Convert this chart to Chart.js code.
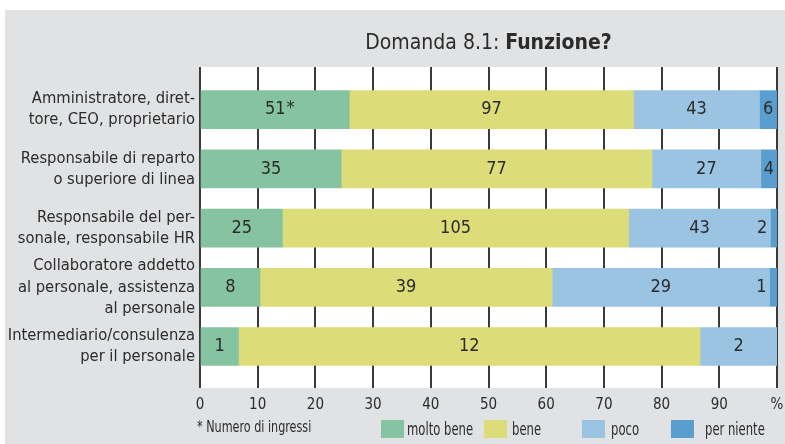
<!DOCTYPE html>
<html>
<head>
<meta charset="utf-8">
<script src="https://cdn.jsdelivr.net/npm/chart.js@4"></script>
<style>
  body { margin: 0; background: #fff; width: 785px; height: 444px; overflow: hidden; position: relative;
         font-family: 'DejaVu Sans Condensed', 'Roboto', sans-serif; color: #2b2b2b; }
  #panel { position: absolute; left: 5px; top: 10px; width: 780px; height: 434px; background: #e1e2e4; }
  #wrap { position: absolute; left: 0; top: 0; width: 785px; height: 444px; }
  #title { position: absolute; left: 200px; width: 577px; top: 30px; text-align: center; font-size: 21px; }
  #note { position: absolute; left: 197px; top: 418px; font-size: 15px; transform: scaleX(0.83); transform-origin: left; }
  .box { position: absolute; top: 420px; width: 23px; height: 18px; }
  .txt { position: absolute; top: 419px; font-size: 17px; transform: scaleX(0.76); transform-origin: left; white-space: nowrap; }
</style>
</head>
<body>
<div id="panel"></div>
<div id="wrap"><canvas id="chart" width="785" height="444"></canvas></div>
<div id="title">Domanda 8.1: <b>Funzione?</b></div>
<div id="note">* Numero di ingressi</div>
<div id="legend"></div>
<script>
// categories (one label line per array entry)
const categories = [
  ['Amministratore, diret-', 'tore, CEO, proprietario'],
  ['Responsabile di reparto', 'o superiore di linea'],
  ['Responsabile del per-', 'sonale, responsabile HR'],
  ['Collaboratore addetto', 'al personale, assistenza', 'al personale'],
  ['Intermediario/consulenza', 'per il personale']
];

// counts per answer, one value per category
const moltoBene = [51, 35, 25, 8, 1];
const bene = [97, 77, 105, 39, 12];
const poco = [43, 27, 43, 29, 2];
const perNiente = [6, 4, 2, 1, 0];

const seriesNames = ['molto bene', 'bene', 'poco', 'per niente'];
const seriesColors = ['#86c3a0', '#dcdc78', '#9ac4e2', '#5a9ecf'];
const xTicks = [0, 10, 20, 30, 40, 50, 60, 70, 80, 90, 100];

const allSeries = [moltoBene, bene, poco, perNiente];
const totals = categories.map((c, i) => allSeries.reduce((s, arr) => s + arr[i], 0));

const datasets = allSeries.map((arr, k) => ({
  label: seriesNames[k],
  data: arr.map((v, i) => ({ x: v / totals[i] * 100, y: i, count: v })),
  backgroundColor: seriesColors[k],
  borderWidth: 0,
  barThickness: 38
}));

const fontFamily = '"DejaVu Sans Condensed", sans-serif';

// value labels inside the segments
const valueLabels = {
  id: 'valueLabels',
  afterDatasetsDraw(chart) {
    const ctx = chart.ctx;
    ctx.save();
    ctx.font = '18px ' + fontFamily;
    ctx.fillStyle = '#2b2b2b';
    ctx.textBaseline = 'middle';
    chart.data.datasets.forEach((ds, k) => {
      chart.getDatasetMeta(k).data.forEach((bar, i) => {
        const count = ds.data[i].count;
        if (!count) return;
        const left = Math.min(bar.x, bar.base), right = Math.max(bar.x, bar.base);
        const text = String(count);
        if (right - left < 14) {
          ctx.textAlign = 'right';
          ctx.fillText(text, left - 3, bar.y);
        } else {
          const cx = (left + right) / 2;
          ctx.textAlign = 'center';
          ctx.fillText(text, cx, bar.y);
          if (i === 0 && k === 0) {
            // footnote marker
            ctx.textAlign = 'left';
            ctx.fillText('*', cx + ctx.measureText(text).width / 2 + 1, bar.y - 1);
          }
        }
      });
    });
    ctx.restore();
  }
};

new Chart(document.getElementById('chart'), {
  type: 'bar',
  data: { datasets },
  options: {
    indexAxis: 'y',
    responsive: false,
    animation: false,
    layout: { padding: { left: 5, top: 67, right: 8, bottom: 0 } },
    plugins: {
      legend: { display: false },
      tooltip: { enabled: false },
      title: { display: false }
    },
    scales: {
      x: {
        type: 'linear',
        stacked: true,
        min: 0,
        max: 100,
        afterBuildTicks: s => { s.ticks = xTicks.map(v => ({ value: v })); },
        afterFit: s => { s.height = 56; s.paddingLeft = 0; s.paddingRight = 0; },
        ticks: {
          padding: 8,
          color: '#2b2b2b',
          font: { family: fontFamily, size: 15 },
          callback: v => v === 100 ? '%' : v
        },
        grid: { color: '#3a3a3a', lineWidth: 2, drawTicks: false },
        border: { display: false }
      },
      y: {
        type: 'linear',
        stacked: true,
        reverse: true,
        offset: false,
        min: -0.72,
        max: 4.7,
        afterBuildTicks: s => { s.ticks = categories.map((c, i) => ({ value: i })); },
        afterFit: s => { s.width = 195; },
        ticks: {
          padding: 5,
          autoSkip: false,
          color: '#2b2b2b',
          font: { family: fontFamily, size: 16.4, lineHeight: 1.29 },
          callback: v => categories[v]
        },
        grid: { display: false, drawTicks: false },
        border: { display: false }
      }
    }
  },
  plugins: [
    {
      id: 'plotBg',
      beforeDraw(chart) {
        const a = chart.chartArea;
        chart.ctx.save();
        chart.ctx.fillStyle = '#ffffff';
        chart.ctx.fillRect(a.left, a.top, a.right - a.left, a.bottom - a.top);
        chart.ctx.restore();
      }
    },
    valueLabels
  ]
});

// legend
const legend = document.getElementById('legend');
const boxX = [381, 484, 582, 671];
const textX = [407, 512, 611, 705];
seriesNames.forEach((name, k) => {
  const b = document.createElement('div');
  b.className = 'box';
  b.style.left = boxX[k] + 'px';
  b.style.background = seriesColors[k];
  legend.appendChild(b);
  const t = document.createElement('div');
  t.className = 'txt';
  t.style.left = textX[k] + 'px';
  t.textContent = name;
  legend.appendChild(t);
});
</script>
</body>
</html>
